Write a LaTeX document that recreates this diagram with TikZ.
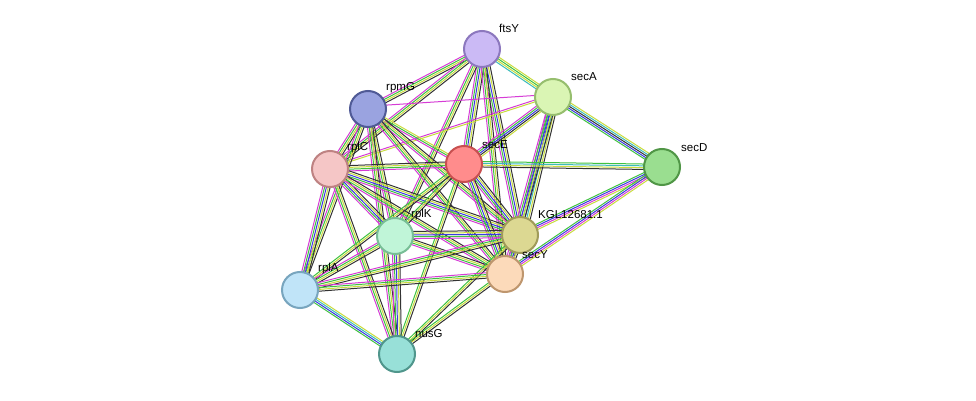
\documentclass[tikz,border=0pt]{standalone}
\usepackage{fontspec}
\setmainfont{Liberation Sans}
\usetikzlibrary{calc}
\pgfdeclarelayer{bg}
\pgfsetlayers{bg,main}
\definecolor{eg}{HTML}{3FC23F}
\definecolor{em}{HTML}{D63CD6}
\definecolor{ey}{HTML}{C8DC3C}
\definecolor{ek}{HTML}{333333}
\definecolor{eb}{HTML}{3A3AE0}
\definecolor{ec}{HTML}{3CBCBC}
\newcommand\sedge[3]{%
  \foreach \cl [count=\ii] in {#3} {%
    \pgfmathsetmacro\oo{(\ii-2.5)*1.8}%
    \draw[draw=\cl,line width=1pt] ($(#1.center)!\oo pt!90:(#2.center)$) -- ($(#2.center)!\oo pt!-90:(#1.center)$);
  }}
\tikzset{
  prot/.style={circle,minimum size=36pt,inner sep=0pt,line width=2pt},
  lab/.style={font=\fontsize{11.5}{12}\selectfont,text=black,inner sep=1pt,anchor=south west}
}
\begin{document}
\begin{tikzpicture}[x=1pt,y=-1pt]
\useasboundingbox (0,0) rectangle (976,401);
\node[prot,fill={rgb,255:red,203;green,186;blue,245},draw={rgb,255:red,140;green,120;blue,190}] (ftsY) at (482,49) {};
\node[prot,fill={rgb,255:red,218;green,245;blue,180},draw={rgb,255:red,150;green,190;blue,110}] (secA) at (553,97) {};
\node[prot,fill={rgb,255:red,154;green,222;blue,144},draw={rgb,255:red,80;green,150;blue,70}] (secD) at (662,167) {};
\node[prot,fill={rgb,255:red,154;green,163;blue,224},draw={rgb,255:red,80;green,90;blue,150}] (rpmG) at (368,109) {};
\node[prot,fill={rgb,255:red,245;green,198;blue,198},draw={rgb,255:red,190;green,130;blue,130}] (rplC) at (330,169) {};
\node[prot,fill={rgb,255:red,255;green,140;blue,140},draw={rgb,255:red,200;green,80;blue,80}] (secE) at (464,164) {};
\node[prot,fill={rgb,255:red,192;green,245;blue,216},draw={rgb,255:red,120;green,190;blue,150}] (rplK) at (395,236) {};
\node[prot,fill={rgb,255:red,220;green,216;blue,146},draw={rgb,255:red,160;green,155;blue,90}] (KGL) at (520,235) {};
\node[prot,fill={rgb,255:red,252;green,218;blue,186},draw={rgb,255:red,190;green,150;blue,110}] (secY) at (505,274) {};
\node[prot,fill={rgb,255:red,192;green,228;blue,248},draw={rgb,255:red,120;green,165;blue,190}] (rplA) at (300,290) {};
\node[prot,fill={rgb,255:red,152;green,224;blue,216},draw={rgb,255:red,80;green,150;blue,140}] (nusG) at (397,354) {};
\node[lab] (l1) at (498,34) {ftsY};
\node[lab] (l2) at (570,82) {secA};
\node[lab] (l3) at (680,153) {secD};
\node[lab] (l4) at (385,94) {rpmG};
\node[lab] (l5) at (346,154) {rplC};
\node[lab] (l6) at (481,150) {secE};
\node[lab] (l7) at (410,221) {rplK};
\node[lab] (l8) at (537,220) {KGL12681.1};
\node[lab] (l9) at (521,260) {secY};
\node[lab] (l10) at (317,275) {rplA};
\node[lab] (l11) at (414,339) {nusG};
\begin{pgfonlayer}{bg}
\fill[white] (0,0) rectangle (976,401);
\sedge{ftsY}{secA}{ec,ey,eg,ey}
\sedge{ftsY}{rpmG}{em,eg,ey,ek}
\sedge{ftsY}{rplC}{em,eg,ey,ek}
\sedge{ftsY}{secE}{em,eg,eb,ey,ek}
\sedge{ftsY}{rplK}{em,eg,ey,ek}
\sedge{ftsY}{KGL}{em,eg,eb,ey,ek}
\sedge{ftsY}{secY}{em,eg,ey,ek}
\sedge{secA}{secD}{eg,eb,ek,ec,ey}
\sedge{secA}{secE}{em,eg,eb,ek,ey}
\sedge{secA}{KGL}{em,eg,eb,ec,ey,ek}
\sedge{secA}{secY}{em,eg,eb,ey,ek}
\sedge{secA}{rpmG}{em}
\sedge{secA}{rplC}{em,ey}
\sedge{secD}{secE}{eg,ec,ey,ek}
\sedge{secD}{KGL}{eg,eb,em,ey}
\sedge{secD}{secY}{eg,eb,em,ey}
\sedge{rpmG}{rplC}{em,eg,ey,ek}
\sedge{rpmG}{secE}{em,eg,ey}
\sedge{rpmG}{rplK}{em,eg,ey,ek}
\sedge{rpmG}{KGL}{em,eg,ey,ek}
\sedge{rpmG}{secY}{em,eg,ey,ek}
\sedge{rpmG}{rplA}{em,eg,ey,ek}
\sedge{rpmG}{nusG}{em,eg,ey,ek}
\sedge{rplC}{secE}{em,eg,ey,ek}
\sedge{rplC}{rplK}{em,eg,eb,ey,ek}
\sedge{rplC}{KGL}{em,eg,eb,ey,ek}
\sedge{rplC}{secY}{em,eg,ey,ek}
\sedge{rplC}{rplA}{em,eg,eb,ey,ek}
\sedge{rplC}{nusG}{em,eg,ey,ek}
\sedge{secE}{KGL}{em,eg,eb,ey,ek}
\sedge{secE}{secY}{em,eg,eb,ey,ek}
\sedge{secE}{rplK}{eg,ey,ek}
\sedge{secE}{rplA}{eg,ey,ek}
\sedge{secE}{nusG}{eg,ey,ek}
\sedge{rplK}{KGL}{em,eg,eb,ey,ek}
\sedge{rplK}{secY}{em,eg,ey,ek}
\sedge{rplK}{rplA}{em,eg,ey,ek}
\sedge{rplK}{nusG}{em,eg,eb,ey,ek}
\sedge{KGL}{secY}{em,eg,eb,ey,ek}
\sedge{KGL}{rplA}{em,eg,ey,ek}
\sedge{KGL}{nusG}{eg,ey,ek}
\sedge{secY}{rplA}{em,eg,ey,ek}
\sedge{secY}{nusG}{eg,ey,ek}
\sedge{rplA}{nusG}{eg,eb,ec,ey}
\end{pgfonlayer}
\end{tikzpicture}
\end{document}
